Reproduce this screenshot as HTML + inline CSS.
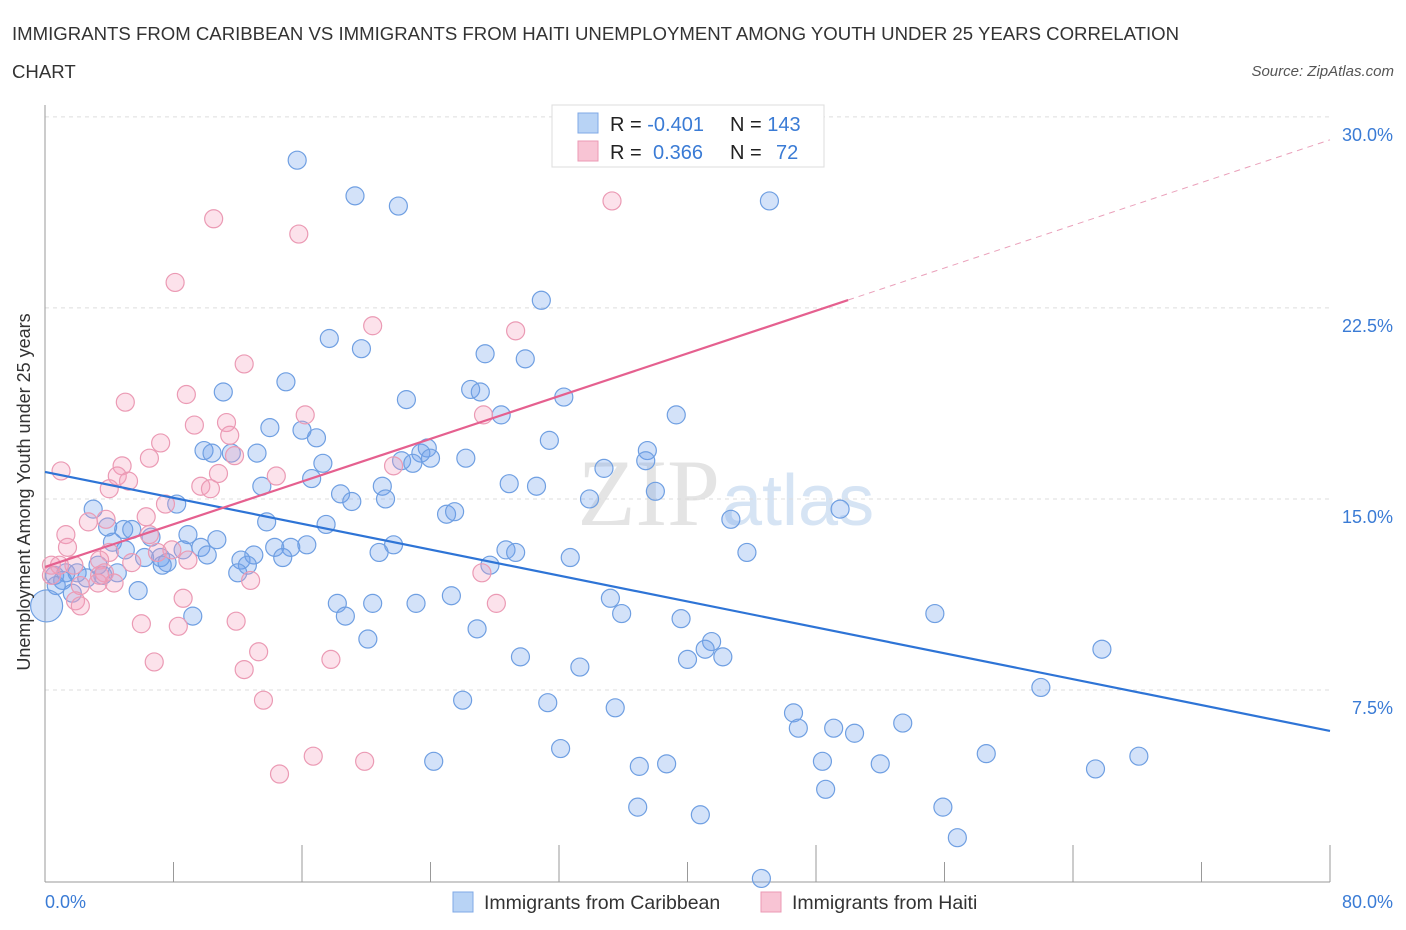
<!DOCTYPE html>
<html><head><meta charset="utf-8"><style>
body{margin:0;background:#fff;font-family:"Liberation Sans",sans-serif;}
svg{display:block}
</style></head><body>
<svg id="chart" width="1406" height="930">
<text x="12" y="40" font-size="18.6" fill="#333">IMMIGRANTS FROM CARIBBEAN VS IMMIGRANTS FROM HAITI UNEMPLOYMENT AMONG YOUTH UNDER 25 YEARS CORRELATION</text>
<text x="12" y="78" font-size="18.6" fill="#333">CHART</text>
<text x="1394" y="76" font-size="15" font-style="italic" fill="#555" text-anchor="end">Source: ZipAtlas.com</text>
<text x="720" y="525" font-size="95" font-family="Liberation Serif,serif" fill="#e4e4e4" text-anchor="end">ZIP</text>
<text x="722" y="525" font-size="72" fill="#d6e4f4">atlas</text>
<g id="grid"></g><g id="axes"></g><g id="pts"></g><g id="trends"></g>
<text x="30" y="492" font-size="18" fill="#333" text-anchor="middle" transform="rotate(-90 30 492)">Unemployment Among Youth under 25 years</text>
<text x="45" y="908" font-size="18" fill="#3a7bd5">0.0%</text>
<text x="1393" y="908" font-size="18" fill="#3a7bd5" text-anchor="end">80.0%</text>
<g>
<rect x="552" y="105" width="272" height="62" fill="#fff" stroke="#ddd"/>
<rect x="578" y="113" width="20" height="20" fill="#b8d3f5" stroke="#7fa8e6"/>
<rect x="578" y="141" width="20" height="20" fill="#f8c4d4" stroke="#eb9ab4"/>
<text x="610" y="131" font-size="20" fill="#222">R = <tspan fill="#3a7bd5">-0.401</tspan><tspan x="730">N = </tspan><tspan fill="#3a7bd5">143</tspan></text>
<text x="610" y="159" font-size="20" fill="#222">R = <tspan x="653" fill="#3a7bd5">0.366</tspan><tspan x="730">N = </tspan><tspan x="776" fill="#3a7bd5">72</tspan></text>
</g>
<g>
<rect x="453" y="892" width="20" height="20" fill="#b8d3f5" stroke="#7fa8e6"/>
<text x="484" y="909" font-size="19.5" fill="#333">Immigrants from Caribbean</text>
<rect x="761" y="892" width="20" height="20" fill="#f8c4d4" stroke="#eb9ab4"/>
<text x="792" y="909" font-size="19.5" fill="#333">Immigrants from Haiti</text>
</g>
</svg>
<script>
const yTicks=[7.5,15,22.5,30];
const yTickLabels=["7.5%","15.0%","22.5%","30.0%"];
const xTicks=[0,8,16,24,32,40,48,56,64,72,80];
const blueX=[15.7,19.3,22.0,45.1,30.9,17.7,19.7,27.4,29.9,15.0,26.5,27.1,11.1,22.5,32.3,28.4,39.3,14.0,16.0,16.9,31.4,23.8,9.9,10.4,13.2,11.6,23.4,24.0,37.5,26.2,22.2,22.9,37.4,17.3,34.8,16.6,28.9,30.6,21.0,13.5,38.0,18.4,19.1,21.2,33.9,8.2,3.0,25.0,25.5,49.5,42.7,3.9,13.8,17.5,4.9,5.4,6.6,8.9,10.7,4.2,16.3,21.7,14.3,15.3,9.7,8.6,5.0,20.8,28.7,29.3,43.7,10.1,6.2,7.2,7.6,14.8,12.2,13.0,32.7,27.7,12.6,7.3,3.3,12.0,1.3,2.0,4.5,0.6,1.1,2.6,3.6,0.7,1.7,5.8,0.1,18.2,20.4,23.1,25.3,35.2,35.9,18.7,9.2,39.6,55.4,20.1,26.9,41.5,41.1,65.8,29.6,40.0,42.2,33.3,62.0,26.0,31.3,35.5,46.6,46.9,49.1,50.4,53.4,32.1,58.6,68.1,24.2,37.0,38.7,48.4,52.0,65.4,48.6,36.9,55.9,40.8,56.8,44.6];
const blueY=[28.3,26.9,26.5,26.7,22.8,21.3,20.9,20.7,20.5,19.6,19.3,19.2,19.2,18.9,19.0,18.3,18.3,17.8,17.7,17.4,17.3,17.0,16.9,16.8,16.8,16.8,16.8,16.6,16.9,16.6,16.5,16.4,16.5,16.4,16.2,15.8,15.6,15.5,15.5,15.5,15.3,15.2,14.9,15.0,15.0,14.8,14.6,14.4,14.5,14.6,14.2,13.9,14.1,14.0,13.8,13.8,13.5,13.6,13.4,13.3,13.2,13.2,13.1,13.1,13.1,13.0,13.0,12.9,13.0,12.9,12.9,12.8,12.7,12.7,12.5,12.7,12.6,12.8,12.7,12.4,12.4,12.4,12.4,12.1,12.1,12.1,12.1,12.0,11.8,11.9,12.0,11.6,11.3,11.4,10.8,10.9,10.9,10.9,11.2,11.1,10.5,10.4,10.4,10.3,10.5,9.5,9.9,9.4,9.1,9.1,8.8,8.7,8.8,8.4,7.6,7.1,7.0,6.8,6.6,6.0,6.0,5.8,6.2,5.2,5.0,4.9,4.7,4.5,4.6,4.7,4.6,4.4,3.6,2.9,2.9,2.6,1.7,0.1];
const pinkX=[44.5,35.3,10.5,15.8,8.1,20.4,29.3,12.4,8.8,5.0,16.2,27.3,11.3,9.3,11.5,7.2,11.8,6.5,4.8,1.0,21.7,14.4,10.8,4.5,5.2,4.0,9.7,10.3,7.5,6.3,2.7,3.8,1.3,6.5,1.4,7.9,7.0,4.0,3.4,8.9,0.4,5.4,1.8,0.9,27.2,3.4,0.4,3.7,12.8,4.3,2.2,3.3,8.6,1.9,2.2,28.1,6.0,8.3,11.9,13.3,17.8,6.8,12.4,13.6,16.7,19.9,14.6];
const pinkY=[29.8,26.7,26.0,25.4,23.5,21.8,21.6,20.3,19.1,18.8,18.3,18.3,18.0,17.9,17.5,17.2,16.7,16.6,16.3,16.1,16.3,15.9,16.0,15.9,15.7,15.4,15.5,15.4,14.8,14.3,14.1,14.2,13.6,13.6,13.1,13.0,12.9,12.9,12.6,12.6,12.4,12.5,12.4,12.4,12.1,12.0,12.0,12.1,11.8,11.7,11.6,11.7,11.1,11.0,10.8,10.9,10.1,10.0,10.2,9.0,8.7,8.6,8.3,7.1,4.9,4.7,4.2];
const blueTrendX=[0,80], blueTrendY=[16.06,5.89];
const pinkTrendX=[0,50], pinkTrendY=[12.33,22.81];
const pinkDashX=[50,80], pinkDashY=[22.81,29.1];
const X=v=>45+v*(1285/80), Y=v=>881-v*25.47;
const NS="http://www.w3.org/2000/svg";
function mk(tag,attrs,parent){const e=document.createElementNS(NS,tag);for(const k in attrs)e.setAttribute(k,attrs[k]);document.getElementById(parent).appendChild(e);return e;}
yTicks.forEach((t,i)=>{
 const l=mk('line',{x1:45,x2:1330,y1:Y(t),y2:Y(t),stroke:'#ddd','stroke-dasharray':'4 4'},'grid');
 
 
 const tx=mk('text',{x:1393,y:Y(t)+24,'font-size':18,fill:'#3a7bd5','text-anchor':'end'},'grid');tx.textContent=yTickLabels[i];
 
 
});
const ya=mk('line',{x1:45,x2:45,y1:105,y2:882,stroke:'#999'},'axes');


const xa=mk('line',{x1:45,x2:1330,y1:882,y2:882,stroke:'#999'},'axes');


xTicks.forEach(t=>{const l=mk('line',{x1:X(t),x2:X(t),y1:882,y2:t%16==0?845:862,stroke:'#999'},'axes');
 
 });
blueX.forEach((v,i)=>{const c=mk('circle',{cx:X(v),cy:Y(blueY[i]),r:(v<0.5&&i===94)?16:9,fill:'rgba(110,160,235,0.3)',stroke:'#6f9fe2','stroke-width':1.2},'pts');
 
 });
pinkX.forEach((v,i)=>{const c=mk('circle',{cx:X(v),cy:Y(pinkY[i]),r:9,fill:'rgba(245,160,190,0.3)',stroke:'#eb9ab4','stroke-width':1.2},'pts');
 
 });
const bt=mk('line',{x1:X(blueTrendX[0]),y1:Y(blueTrendY[0]),x2:X(blueTrendX[1]),y2:Y(blueTrendY[1]),stroke:'#2e74d6','stroke-width':2.2},'trends');


const pt=mk('line',{x1:X(pinkTrendX[0]),y1:Y(pinkTrendY[0]),x2:X(pinkTrendX[1]),y2:Y(pinkTrendY[1]),stroke:'#e5608f','stroke-width':2.2},'trends');


const pd=mk('line',{x1:X(pinkDashX[0]),y1:Y(pinkDashY[0]),x2:X(pinkDashX[1]),y2:Y(pinkDashY[1]),stroke:'#eaa0ba','stroke-width':1,'stroke-dasharray':'6 5'},'trends');


</script>
</body></html>
